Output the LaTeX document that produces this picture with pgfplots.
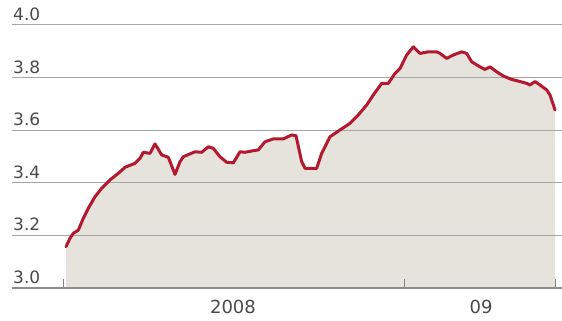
\documentclass[border=0pt]{standalone}
\usepackage{pgfplots}
\pgfplotsset{compat=1.18}
\usepackage{fontspec}
\setmainfont{DejaVu Sans}
\definecolor{linered}{HTML}{B3182E}
\definecolor{beige}{HTML}{E6E2DC}
\definecolor{gridgray}{HTML}{A6A6A6}
\definecolor{txtgray}{HTML}{4A4A4A}
\begin{document}
\begin{tikzpicture}
\begin{axis}[
  set layers,
  scale only axis,
  width=550pt, height=263pt,
  xmin=12, xmax=562,
  ymin=3.0, ymax=4.0,
  axis line style={draw=none},
  ytick={3.0,3.2,3.4,3.6,3.8,4.0},
  ymajorgrids,
  grid style={gridgray, line width=1pt},
  ytick style={draw=none},
  yticklabel style={anchor=south west, inner sep=0pt, xshift=1pt, yshift=4pt, text=txtgray, font=\fontsize{17}{19}\selectfont, /pgf/number format/fixed, /pgf/number format/fixed zerofill, /pgf/number format/precision=1, /pgf/number format/assume math mode=true},
  xtick={233,481},
  xticklabels={2008,09},
  major x tick style={draw=none},
  minor xtick={63,404,555},
  xtick pos=bottom,
  minor tick length=9pt,
  minor x tick style={gridgray!80!black, line width=0.8pt},
  xticklabel style={anchor=north, inner sep=0pt, yshift=-12pt, text=txtgray, font=\fontsize{18}{20}\selectfont},
  clip=false,
]
\addplot[fill=beige, draw=none, on layer=axis background] table {
x y
66 3.157
70 3.189
73.3 3.208
78.3 3.22
83.3 3.265
88.3 3.303
95 3.347
101.7 3.379
110 3.411
118.3 3.436
125 3.459
135 3.474
140 3.493
143.3 3.516
150 3.512
155 3.548
161.7 3.506
168.3 3.497
175 3.432
180 3.48
183.3 3.499
195 3.518
201.7 3.516
208.3 3.537
213.3 3.531
220 3.499
226.7 3.478
233.3 3.476
240 3.518
245 3.516
253.3 3.522
258.3 3.525
265 3.556
273.3 3.567
283.3 3.567
291.7 3.582
296 3.579
301.7 3.48
305 3.455
316.7 3.455
321.7 3.512
330 3.575
340 3.601
350 3.626
358.3 3.658
366.7 3.696
373.3 3.734
381.7 3.778
388.3 3.778
395 3.816
400 3.835
406.7 3.886
413.3 3.917
420 3.892
428.3 3.898
436.7 3.898
440 3.892
446.7 3.873
453.3 3.886
461.7 3.898
466.7 3.892
471.7 3.860
480 3.841
485 3.831
490 3.841
496.7 3.822
503.3 3.806
511.7 3.793
520 3.785
526.7 3.778
530 3.772
535 3.785
540 3.772
546.7 3.753
550 3.734
555 3.677
} \closedcycle;
\draw[gridgray!85!black, line width=1.4pt] (axis cs:12,3.0) -- (axis cs:562,3.0);
\addplot[linered, line width=3pt, line join=round, line cap=round] table {
x y
66 3.157
70 3.189
73.3 3.208
78.3 3.22
83.3 3.265
88.3 3.303
95 3.347
101.7 3.379
110 3.411
118.3 3.436
125 3.459
135 3.474
140 3.493
143.3 3.516
150 3.512
155 3.548
161.7 3.506
168.3 3.497
175 3.432
180 3.48
183.3 3.499
195 3.518
201.7 3.516
208.3 3.537
213.3 3.531
220 3.499
226.7 3.478
233.3 3.476
240 3.518
245 3.516
253.3 3.522
258.3 3.525
265 3.556
273.3 3.567
283.3 3.567
291.7 3.582
296 3.579
301.7 3.48
305 3.455
316.7 3.455
321.7 3.512
330 3.575
340 3.601
350 3.626
358.3 3.658
366.7 3.696
373.3 3.734
381.7 3.778
388.3 3.778
395 3.816
400 3.835
406.7 3.886
413.3 3.917
420 3.892
428.3 3.898
436.7 3.898
440 3.892
446.7 3.873
453.3 3.886
461.7 3.898
466.7 3.892
471.7 3.860
480 3.841
485 3.831
490 3.841
496.7 3.822
503.3 3.806
511.7 3.793
520 3.785
526.7 3.778
530 3.772
535 3.785
540 3.772
546.7 3.753
550 3.734
555 3.677
};
\end{axis}
\pgfresetboundingbox
\useasboundingbox (-12pt,-33pt) rectangle (550pt,288pt);
\end{tikzpicture}
\end{document}
